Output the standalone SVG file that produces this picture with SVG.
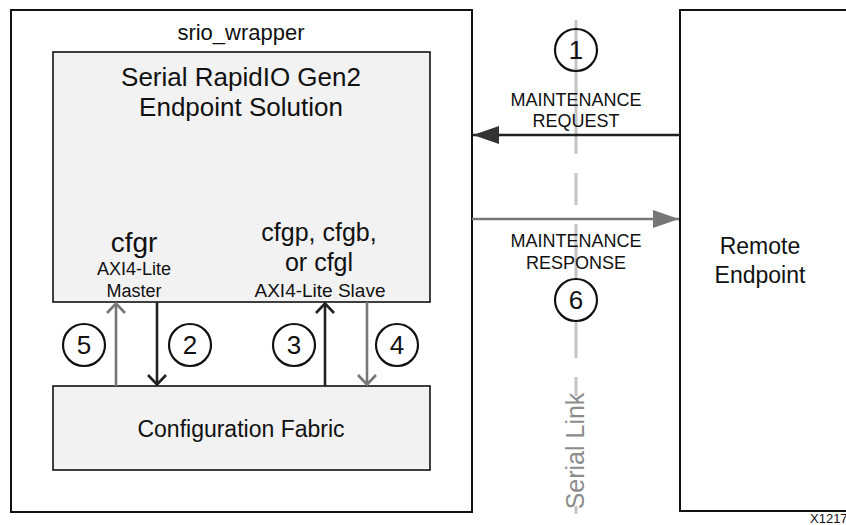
<svg xmlns="http://www.w3.org/2000/svg" width="846" height="525" viewBox="0 0 846 525">
<defs>
<style>
text{font-family:"Liberation Sans",Arial,sans-serif;fill:#111;text-anchor:middle}
.box{fill:#fff;stroke:#111;stroke-width:2}
.inner{fill:#f2f2f2;stroke:#111;stroke-width:1.6}
.circ{fill:none;stroke:#111;stroke-width:2.2}
.dark{stroke:#222;stroke-width:2.6;fill:none}
.grey{stroke:#777;stroke-width:2.6;fill:none}
.num{font-size:26px}
</style>
<marker id="triD" viewBox="0 0 26 18" refX="26" refY="9" markerWidth="26" markerHeight="18" markerUnits="userSpaceOnUse" orient="auto">
<path d="M0,0 L26,9 L0,18 Z" fill="#333"/>
</marker>
<marker id="triG" viewBox="0 0 26 18" refX="26" refY="9" markerWidth="26" markerHeight="18" markerUnits="userSpaceOnUse" orient="auto">
<path d="M0,0 L26,9 L0,18 Z" fill="#777"/>
</marker>
</defs>
<rect width="846" height="525" fill="#fff"/>
<g id="srio_wrapper">
<rect class="box" x="11" y="10" width="461" height="502"/>
<text x="241" y="40" font-size="22">srio_wrapper</text>
</g>
<g id="remote_endpoint">
<rect class="box" x="680" y="10" width="180" height="501"/>
<text x="760" y="254" font-size="23">Remote</text>
<text x="760" y="283" font-size="23">Endpoint</text>
</g>
<g id="serial_link">
<line x1="576" y1="20" x2="576" y2="514" stroke="#c4c4c4" stroke-width="3" stroke-dasharray="134 19 32 19"/>
<rect x="562" y="396" width="28" height="110" fill="#fff"/>
<text transform="translate(584,451) rotate(-90)" font-size="25" style="fill:#8c8c8c">Serial Link</text>
</g>
<g id="srio_endpoint">
<rect class="inner" x="53" y="52" width="377" height="250"/>
<text x="241" y="86" font-size="26">Serial RapidIO Gen2</text>
<text x="241" y="116" font-size="26">Endpoint Solution</text>
<text x="134" y="252" font-size="28">cfgr</text>
<text x="134" y="275" font-size="18">AXI4-Lite</text>
<text x="134" y="297" font-size="18">Master</text>
<text x="319" y="241" font-size="25">cfgp, cfgb,</text>
<text x="319" y="271" font-size="25">or cfgl</text>
<text x="320" y="297" font-size="19">AXI4-Lite Slave</text>
</g>
<g id="config_fabric">
<rect class="inner" x="53" y="386" width="377" height="84"/>
<text x="241" y="437" font-size="23">Configuration Fabric</text>
</g>
<g id="connectors">
<line class="dark" x1="680" y1="135" x2="473" y2="135" marker-end="url(#triD)"/>
<line class="grey" x1="472" y1="219" x2="679" y2="219" marker-end="url(#triG)"/>
<line class="grey" x1="116" y1="386" x2="116" y2="303"/>
<path class="grey" d="M107,313 L116,303.5 L125,313"/>
<line class="dark" x1="157" y1="302" x2="157" y2="385"/>
<path class="dark" d="M148,375 L157,384.5 L166,375"/>
<line class="dark" x1="325" y1="386" x2="325" y2="303"/>
<path class="dark" d="M316,313 L325,303.5 L334,313"/>
<line class="grey" x1="367" y1="302" x2="367" y2="385"/>
<path class="grey" d="M358,375 L367,384.5 L376,375"/>
</g>
<g id="labels">
<text x="576" y="106" font-size="18">MAINTENANCE</text>
<text x="576" y="127" font-size="18">REQUEST</text>
<text x="576" y="247" font-size="18">MAINTENANCE</text>
<text x="576" y="269" font-size="18">RESPONSE</text>
</g>
<g id="step1"><circle class="circ" cx="576" cy="50" r="21"/><text class="num" x="576" y="59">1</text></g>
<g id="step6"><circle class="circ" cx="576" cy="300" r="21" style="fill:#fff"/><text class="num" x="576" y="309">6</text></g>
<g id="step5"><circle class="circ" cx="84" cy="345" r="21"/><text class="num" x="84" y="354">5</text></g>
<g id="step2"><circle class="circ" cx="190" cy="345" r="21"/><text class="num" x="190" y="354">2</text></g>
<g id="step3"><circle class="circ" cx="294" cy="345" r="21"/><text class="num" x="294" y="354">3</text></g>
<g id="step4"><circle class="circ" cx="397" cy="345" r="21"/><text class="num" x="397" y="354">4</text></g>
<text x="810" y="523" font-size="13" style="text-anchor:start">X1217</text>
</svg>
